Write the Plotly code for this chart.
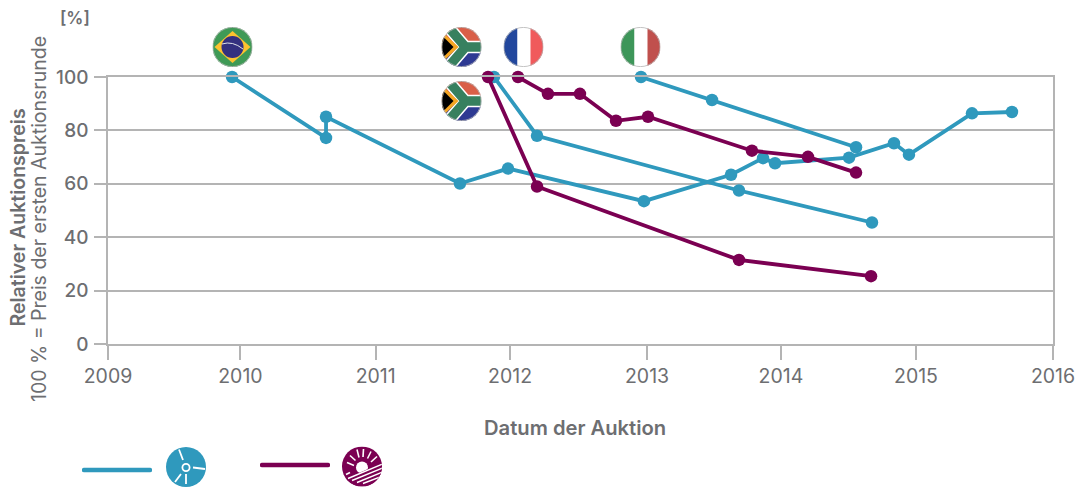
import base64
import plotly.graph_objects as go

W, H = 1100, 487
L, R, T, B = 108, 1053, 77, 344

BLUE = "#2f99bd"
PURPLE = "#7b0052"
GRID = "#b4b4b4"
TEXT = "#6d6e71"
FONT = "Inter"

# ---- data -----------------------------------------------------------------
wind_brazil_x = [2009.919, 2010.615, 2010.615, 2011.607, 2011.963, 2012.970, 2013.615,
                 2013.852, 2013.941, 2014.489, 2014.822, 2014.933, 2015.400, 2015.696]
wind_brazil_y = [100, 77.2, 85.1, 60.1, 65.7, 53.5, 63.4, 69.6, 67.7, 69.8, 75.2, 70.9, 86.4, 86.9]
wind_sa_x = [2011.859, 2012.178, 2013.674, 2014.659]
wind_sa_y = [100, 78.0, 57.5, 45.5]
wind_italy_x = [2012.948, 2013.474, 2014.541]
wind_italy_y = [100, 91.4, 73.7]
solar_sa_x = [2011.815, 2012.178, 2013.674, 2014.652]
solar_sa_y = [100, 59.0, 31.5, 25.4]
solar_france_x = [2012.037, 2012.259, 2012.496, 2012.763, 2013.000, 2013.770, 2014.185, 2014.541]
solar_france_y = [100, 93.7, 93.7, 83.6, 85.1, 72.4, 70.1, 64.2]

x_tick_vals = [2009, 2009.981, 2010.983, 2011.978, 2012.993, 2013.985, 2014.985, 2016]
x_tick_text = ["2009", "2010", "2011", "2012", "2013", "2014", "2015", "2016"]
y_tick_vals = [0, 20, 40, 60, 80, 100]

fig = go.Figure()
for xs, ys, col in [
    (wind_brazil_x, wind_brazil_y, BLUE),
    (wind_sa_x, wind_sa_y, BLUE),
    (wind_italy_x, wind_italy_y, BLUE),
    (solar_sa_x, solar_sa_y, PURPLE),
    (solar_france_x, solar_france_y, PURPLE),
]:
    fig.add_trace(go.Scatter(x=xs, y=ys, mode="lines+markers", cliponaxis=False,
                             line=dict(color=col, width=3.8),
                             marker=dict(color=col, size=12.5), hoverinfo="skip"))


def px(x):
    return (x - L) / (R - L)


def py(y):
    return (B - y) / (B - T)


def svg_uri(body, w=40, h=40):
    s = (f'<svg xmlns="http://www.w3.org/2000/svg" width="{w*3}" height="{h*3}" viewBox="0 0 {w} {h}">'
         f'<defs><clipPath id="c"><circle cx="20" cy="20" r="20"/></clipPath></defs>{body}</svg>')
    return "data:image/svg+xml;base64," + base64.b64encode(s.encode()).decode()


RING = '<circle cx="20" cy="20" r="19.6" fill="none" stroke="#b5b5b5" stroke-width="0.8"/>'
BRAZIL = ('<g clip-path="url(#c)"><rect width="40" height="40" fill="#3f9a56"/>'
          '<polygon points="2,20 20,4 38,20 20,36" fill="#fcc22f"/>'
          '<circle cx="20" cy="20" r="11" fill="#33307f"/>'
          '<path d="M9.5,17 Q20,13.5 30.5,22" stroke="#dfe3e8" stroke-width="1" fill="none"/></g>' + RING)
SA = ('<g clip-path="url(#c)"><rect width="40" height="20" fill="#d95f48"/>'
      '<rect y="20" width="40" height="20" fill="#2e3a93"/>'
      '<path d="M5,-2 L24,20 L44,20 M24,20 L5,42" fill="none" stroke="#fff" stroke-width="12.5"/>'
      '<path d="M5,-2 L24,20 L44,20 M24,20 L5,42" fill="none" stroke="#37805f" stroke-width="9.5"/>'
      '<polygon points="0,4 17,20 0,36" fill="#f5a623"/>'
      '<polygon points="0,8 12,20 0,32" fill="#000"/></g>' + RING)
FRANCE = ('<g clip-path="url(#c)"><rect width="14" height="40" fill="#22479d"/>'
          '<rect x="14" width="13" height="40" fill="#fff"/>'
          '<rect x="27" width="13" height="40" fill="#f05a5c"/></g>' + RING)
ITALY = ('<g clip-path="url(#c)"><rect width="14" height="40" fill="#3d9659"/>'
         '<rect x="14" width="13" height="40" fill="#fff"/>'
         '<rect x="27" width="13" height="40" fill="#c0504d"/></g>' + RING)
WIND = (f'<circle cx="20" cy="20" r="20" fill="{BLUE}"/>'
        '<g stroke="#fff" stroke-width="1.8" fill="none">'
        '<circle cx="20" cy="20.5" r="3.6"/>'
        '<path d="M17,13 L13,2.5 M27,20.5 L39,22 M15,27 L9,35 M20,27 L20,37"/></g>')
rays = "".join(
    f'<path d="M{a},{b} L{c},{d}"/>' for a, b, c, d in
    [(12, 19, 5, 16), (13.5, 14, 8, 9), (17, 11, 15, 3), (21, 10.5, 21.5, 2.5),
     (25.5, 12, 29, 5), (29, 15.5, 35, 10), (8, 26, 4, 28)])
SOLAR = (f'<circle cx="20" cy="20" r="20" fill="{PURPLE}"/>'
         f'<g stroke="#fff" stroke-width="1.6" fill="none">{rays}</g>'
         '<circle cx="20" cy="21" r="6" fill="#fff"/>'
         '<g clip-path="url(#c)">'
         f'<polygon points="0,34 45,14 45,42 0,42" fill="{PURPLE}"/>'
         '<g stroke="#fff" stroke-width="1.4">'
         '<path d="M6,32 L42,17 M10,34 L42,21 M15,36 L42,25 M21,37 L42,29"/></g></g>')


def key_line(col):
    return (f'<line x1="2" y1="4" x2="68" y2="4" stroke="{col}" stroke-width="4.4" stroke-linecap="round"/>')


images = []


def add_img(src, cx, cy, w=40, h=40):
    images.append(dict(source=src, xref="paper", yref="paper", x=px(cx), y=py(cy),
                       sizex=w / (R - L), sizey=h / (B - T), xanchor="center", yanchor="middle",
                       sizing="stretch", layer="above"))


for body, cx, cy in [(BRAZIL, 232.5, 47), (SA, 461.5, 47), (FRANCE, 523.5, 47),
                     (ITALY, 640.5, 47), (SA, 461.5, 101), (WIND, 186, 467), (SOLAR, 362, 466.5)]:
    add_img(svg_uri(body), cx, cy)
add_img(svg_uri(key_line(BLUE), 70, 8), 117, 470, 70, 8)
add_img(svg_uri(key_line(PURPLE), 70, 8), 295, 465, 70, 8)

annots = [
    dict(text="Relativer Auktionspreis", x=17, y=217.5, size=19.5, rot=-90, weight=600),
    dict(text="100 % = Preis der ersten Auktionsrunde", x=39, y=219, size=19.5, rot=-90, weight=400),
    dict(text="[%]", x=75, y=18, size=17, rot=0, weight=600),
    dict(text="Datum der Auktion", x=575, y=428, size=20.2, rot=0, weight=600),
]
annotations = [dict(text=a["text"], xref="paper", yref="paper", x=px(a["x"]), y=py(a["y"]),
                    xanchor="center", yanchor="middle", showarrow=False, textangle=a["rot"],
                    font=dict(family=FONT, size=a["size"], color=TEXT, weight=a["weight"])) for a in annots]

fig.update_layout(
    width=W, height=H, autosize=False,
    margin=dict(l=L, r=W - R, t=T, b=H - B, pad=0),
    paper_bgcolor="#fff", plot_bgcolor="#fff", showlegend=False, hovermode=False,
    font=dict(family=FONT, color=TEXT),
    images=images, annotations=annotations,
    xaxis=dict(range=[2009, 2016], tickmode="array", tickvals=x_tick_vals, ticktext=x_tick_text,
               ticks="outside", ticklen=14, tickwidth=1.5, tickcolor=GRID, showgrid=False,
               zeroline=False, showline=True, linecolor=GRID, linewidth=1.5, mirror=True,
               tickfont=dict(family=FONT, size=19.5, color=TEXT)),
    yaxis=dict(range=[0, 100], tickmode="array", tickvals=y_tick_vals,
               ticks="outside", ticklen=12, tickwidth=1.5, tickcolor=GRID, ticklabelstandoff=2,
               showgrid=True, gridcolor=GRID, gridwidth=1.5, zeroline=False,
               showline=True, linecolor=GRID, linewidth=1.5, mirror=True,
               tickfont=dict(family=FONT, size=19, color=TEXT, weight=500)),
)
fig.write_html("out.html", config=dict(displayModeBar=False),
               post_script="document.body.style.margin='0';document.documentElement.style.overflow='hidden';")
